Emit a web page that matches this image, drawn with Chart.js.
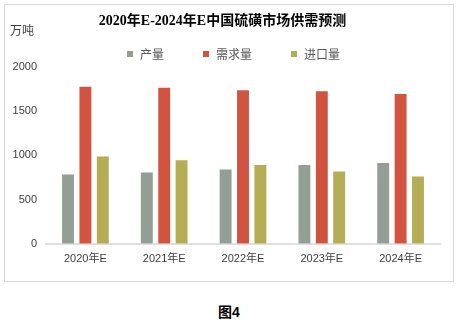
<!DOCTYPE html>
<html>
<head>
<meta charset="utf-8">
<script src="https://cdn.jsdelivr.net/npm/chart.js@4/dist/chart.umd.min.js"></script>
<style>
  body { margin: 0; background: #fff; width: 460px; height: 324px; position: relative; overflow: hidden;
         font-family: "Liberation Sans", "Noto Sans CJK SC", sans-serif; }
  #frame { position: absolute; left: 4px; top: 4px; width: 448px; height: 276px; border: 1px solid #d9d9d9; }
  #chart { position: absolute; left: 0; top: 0; }
  #unit { position: absolute; left: 5px; top: 16px; font-size: 12px; color: #404040; }
  #legend { position: absolute; left: 122px; top: 40px; display: flex; font-size: 12px; color: #595959; }
  #legend .item { display: flex; align-items: center; margin-right: 39px; }
  #legend .box { width: 6px; height: 6px; margin-right: 7px; }
  #caption { position: absolute; left: 0; width: 458px; top: 301px; text-align: center;
             font-weight: bold; font-size: 14px; color: #000; }
</style>
</head>
<body>
<div id="frame">
  <canvas id="chart" width="448" height="276"></canvas>
  <div id="unit">万吨</div>
  <div id="legend"></div>
</div>
<div id="caption">图4</div>
<script>
const categories = ['2020年E', '2021年E', '2022年E', '2023年E', '2024年E'];
const outputValues = [795, 818, 850, 902, 925];
const demandValues = [1787, 1775, 1745, 1734, 1704];
const importValues = [997, 955, 902, 828, 772];
const seriesNames = ['产量', '需求量', '进口量'];
const seriesColors = ['#939e94', '#d05440', '#b5ad55'];
const yTicks = [0, 500, 1000, 1500, 2000];

const seriesValues = [outputValues, demandValues, importValues];

// html legend
const legendEl = document.getElementById('legend');
seriesNames.forEach((name, i) => {
    const item = document.createElement('div');
    item.className = 'item';
    item.innerHTML = `<span class="box" style="background:${seriesColors[i]}"></span><span>${name}</span>`;
    legendEl.appendChild(item);
});

const ctx = document.getElementById('chart').getContext('2d');
new Chart(ctx, {
    type: 'bar',
    data: {
        labels: categories,
        datasets: seriesNames.map((name, i) => ({
            label: name,
            data: seriesValues[i],
            backgroundColor: seriesColors[i],
            borderColor: 'rgba(255,255,255,0.5)',
            borderWidth: 1,
            categoryPercentage: 0.662,
            barPercentage: 0.8
        }))
    },
    options: {
        responsive: false,
        animation: false,
        layout: { padding: { left: 0, right: 13, top: 0, bottom: 6 } },
        plugins: {
            legend: { display: false },
            tooltip: { enabled: false },
            title: {
                display: true,
                text: '2020年E-2024年E中国硫磺市场供需预测',
                color: '#000',
                font: { family: '"Liberation Serif", "Noto Sans CJK SC"', size: 14, weight: 'bold' },
                padding: { top: 8, bottom: 37 }
            }
        },
        scales: {
            x: {
                grid: { display: false, drawTicks: false },
                border: { display: true, color: '#e0e0e0', width: 2 },
                ticks: {
                    color: '#404040',
                    padding: 9,
                    font: { family: '"Liberation Sans", "Noto Sans CJK SC"', size: 11 }
                }
            },
            y: {
                min: 0,
                max: 2000,
                afterFit: scale => { scale.width = 41; },
                afterBuildTicks: scale => { scale.ticks = yTicks.map(v => ({ value: v })); },
                grid: { display: false, drawTicks: false },
                border: { display: false },
                ticks: {
                    color: '#404040',
                    padding: 9,
                    callback: value => `${value}`,
                    font: { family: '"Liberation Sans", "Noto Sans CJK SC"', size: 11 }
                }
            }
        }
    }
});
</script>
</body>
</html>
